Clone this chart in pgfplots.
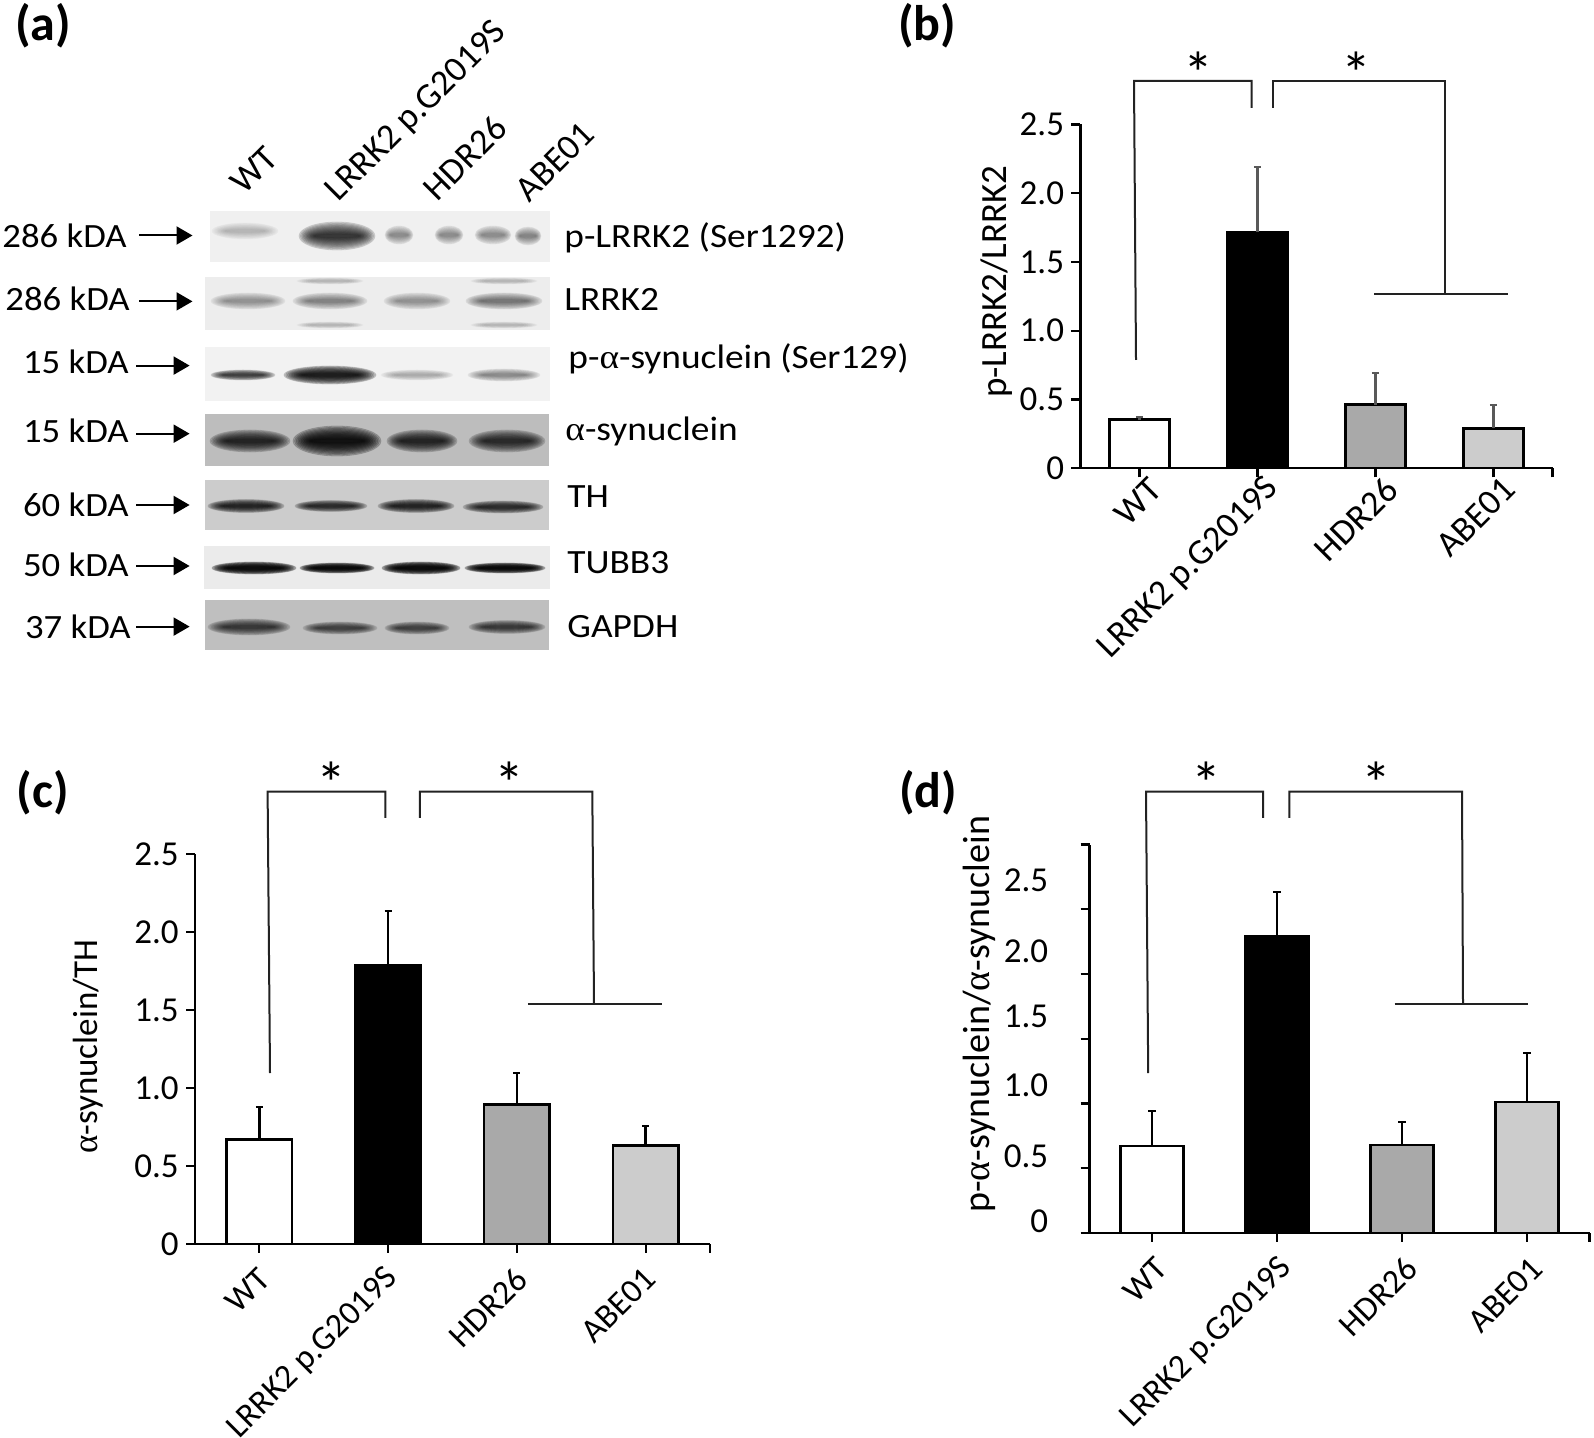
\documentclass[border=0pt]{standalone}
\usepackage{fontspec}
\usepackage{pgfplots}
\usepackage{pgfplotstable}
\pgfplotsset{compat=1.18}
\usetikzlibrary{arrows.meta}
\setmainfont{Carlito}
\newfontfamily\grk{Liberation Serif}
\newcommand\al{{\grk α}}
\newcommand\fs[1]{\fontsize{#1}{#1}\selectfont}
\newcommand\wide[1]{\scalebox{1.1}[1]{\fs{17}#1}}
\newcommand\widel[1]{\scalebox{1.08}[1]{\fs{17}#1}}

% blot bands, pixel coordinates of the reference: x y rx ry layer opacity
\pgfplotstableread{
x y rx ry d
245 231 33 8 .02
337 236 38 14 .11
399 235 14 9 .04
449 235 14 9 .04
493 235 18 9 .04
528 236 13 9 .045
248 301 37 8 .035
330 301 37 8 .045
417 301 33 8 .035
504 301 38 8 .05
330 281 33 3 .015
504 281 33 3 .015
330 325 33 3 .015
504 325 33 3 .015
243 375 32 5 .09
330 375 46 9 .15
417 375 36 5 .025
504 375 36 6 .04
250 441 40 11 .12
337 441 44 15 .17
422 441 35 11 .12
507 441 38 11 .11
246 506 38 6.5 .12
331 506 36 5.5 .11
416 506 38 6.5 .12
503 507 40 6 .11
254 568 42 6 .20
337 568 37 5 .20
421 568 39 6 .20
505 568 40 5 .20
249 627 41 8 .09
340 628 37 6 .08
417 628 32 6 .08
507 627 38 6.5 .085
}\bands

\definecolor{hdr}{HTML}{A9A9A9}
\definecolor{abe}{HTML}{CCCCCC}
\definecolor{brk}{HTML}{222222}

\pgfplotsset{
  panel/.style={
    scale only axis, anchor=south west,
    axis x line=bottom, axis y line=left, axis line style={-, line width=1.1pt},
    xmin=-0.5, xmax=3.5, ymin=0,
    xtick={0,1,2,3,3.5}, xticklabels={WT,{LRRK2 p.G2019S},HDR26,ABE01,},
    tick align=outside, major tick length=4.5pt,
    tick style={black, line width=1.1pt},
    yticklabel style={inner sep=0pt, xshift=-3.5pt, font=\fs{17.5}},
  },
  xlab/.style n args={3}{xticklabel style={rotate=45, anchor=east, inner sep=0pt, xshift=#2, yshift=#3, font=\fs{#1}}},
  ylab/.style n args={3}{every axis y label/.style={at={(axis description cs:#2,#3)}, rotate=90, anchor=center, font=\fs{#1}}},
  errs/.style 2 args={error bars/.cd, y dir=plus, y explicit,
    error bar style={line width=#1, draw=#2},
    error mark options={rotate=90, mark size=1.8pt, line width=1pt, draw=#2}},
  b/.style={ybar, bar shift=0pt, line width=1.3pt, draw=black},
}

\begin{document}
\begin{tikzpicture}
\path[use as bounding box] (0,0) rectangle (797pt,719pt);

% (b)
\begin{axis}[panel, at={(540.2pt,484.85pt)}, width=236.05pt, height=171.9pt, ymax=2.5,
  ytick={0,0.5,1,1.5,2,2.5}, yticklabels={0,0.5,1.0,1.5,2.0,2.5},
  xlab={18}{3.5pt}{-8pt},
  ylabel={p-LRRK2/LRRK2}, ylab={18.5}{-0.178}{0.543},
  bar width=29.8pt,
]
\addplot[b, fill=white, errs={1.2pt}{black!65}] coordinates {(0,0.353) +- (0,0.017)};
\addplot[b, fill=black, errs={1.2pt}{black!65}] coordinates {(1,1.718) +- (0,0.476)};
\addplot[b, fill=hdr, errs={1.2pt}{black!65}] coordinates {(2,0.463) +- (0,0.231)};
\addplot[b, fill=abe, errs={1.2pt}{black!65}] coordinates {(3,0.290) +- (0,0.167)};
\end{axis}

% (c)
\begin{axis}[panel, at={(97.5pt,97pt)}, width=257.5pt, height=194.8pt, ymax=2.5,
  ytick={0,0.5,1,1.5,2,2.5}, yticklabels={0,0.5,1.0,1.5,2.0,2.5},
  xlab={17}{-5.5pt}{-9pt},
  ylabel={\al-synuclein/TH}, ylab={17.5}{-0.208}{0.506},
  bar width=32.8pt,
]
\addplot[b, fill=white, errs={1.3pt}{black}] coordinates {(0,0.671) +- (0,0.206)};
\addplot[b, fill=black, errs={1.3pt}{black}] coordinates {(1,1.786) +- (0,0.348)};
\addplot[b, fill=hdr, errs={1.3pt}{black}] coordinates {(2,0.897) +- (0,0.200)};
\addplot[b, fill=abe, errs={1.3pt}{black}] coordinates {(3,0.631) +- (0,0.129)};
\end{axis}

% (d): the typed numbers sit above their ticks in the reference
\begin{axis}[panel, at={(544.75pt,102.55pt)}, width=250pt, height=194.15pt, ymax=3,
  ytick={0,0.5,1,1.5,2,2.5,3}, yticklabels={},
  extra y ticks={0.093,0.592,1.142,1.669,2.175,2.725},
  extra y tick labels={0,0.5,1.0,1.5,2.0,2.5},
  extra y tick style={major tick length=0pt, yticklabel style={xshift=-17pt, inner sep=0pt, font=\fs{17.5}}},
  xlab={17}{-4pt}{-11pt},
  ylabel={p-\al-synuclein/\al-synuclein}, ylab={19}{-0.221}{0.563},
  bar width=31.3pt,
]
\addplot[b, fill=white, errs={1.3pt}{black}] coordinates {(0,0.671) +- (0,0.268)};
\addplot[b, fill=black, errs={1.3pt}{black}] coordinates {(1,2.295) +- (0,0.337)};
\addplot[b, fill=hdr, errs={1.3pt}{black}] coordinates {(2,0.678) +- (0,0.175)};
\addplot[b, fill=abe, errs={1.3pt}{black}] coordinates {(3,1.012) +- (0,0.378)};
\end{axis}

% whole-figure axis in reference pixels: blots, brackets, panel letters
\begin{axis}[at={(0,0)}, anchor=south west, scale only axis, width=797pt, height=719pt,
  xmin=0, xmax=1594, ymin=0, ymax=1438, y dir=reverse, hide axis, clip=false]

\addplot[fill=black!6, draw=none] coordinates {(210,211)(550,211)(550,262)(210,262)} --cycle;
\addplot[fill=black!7, draw=none] coordinates {(205,277)(550,277)(550,330)(205,330)} --cycle;
\addplot[fill=black!5, draw=none] coordinates {(205,347)(550,347)(550,401)(205,401)} --cycle;
\addplot[fill=black!26, draw=none] coordinates {(205,414)(549,414)(549,466)(205,466)} --cycle;
\addplot[fill=black!20, draw=none] coordinates {(205,480)(549,480)(549,530)(205,530)} --cycle;
\addplot[fill=black!8, draw=none] coordinates {(204,546)(550,546)(550,589)(204,589)} --cycle;
\addplot[fill=black!25, draw=none] coordinates {(205,600)(549,600)(549,650)(205,650)} --cycle;

\addplot[scatter, only marks, mark=*, mark size=0pt,
  visualization depends on={\thisrow{rx} \as \rx},
  visualization depends on={\thisrow{ry} \as \ry},
  visualization depends on={\thisrow{d} \as \dk},
  scatter/@pre marker code/.code={%
    \foreach \s in {1,0.92,0.84,0.76,0.68,0.6,0.52,0.44,0.36,0.28,0.2,0.12}{%
      \fill[black, opacity=\dk] (0,0) ellipse [x radius={(0.55+0.45*\s)*\rx*0.5pt}, y radius={\s*\ry*0.5pt}];}%
    \begingroup\pgfsetstrokeopacity{0}\pgfsetfillopacity{0}},
  scatter/@post marker code/.code={\endgroup},
] table[x=x, y=y] {\bands};

% arrows
\addplot[-{Triangle[length=8pt,width=9pt]}, line width=1pt] coordinates {(139,235.5)(192.5,235.5)};
\addplot[-{Triangle[length=8pt,width=9pt]}, line width=1pt] coordinates {(139,301.4)(192.5,301.4)};
\addplot[-{Triangle[length=8pt,width=9pt]}, line width=1pt] coordinates {(136,365.6)(189.6,365.6)};
\addplot[-{Triangle[length=8pt,width=9pt]}, line width=1pt] coordinates {(136,433.7)(189.6,433.7)};
\addplot[-{Triangle[length=8pt,width=9pt]}, line width=1pt] coordinates {(136,505)(189.6,505)};
\addplot[-{Triangle[length=8pt,width=9pt]}, line width=1pt] coordinates {(136,566)(189.6,566)};
\addplot[-{Triangle[length=8pt,width=9pt]}, line width=1pt] coordinates {(136,626.6)(189.6,626.6)};

% brackets (b)
\addplot[brk, line width=1pt] coordinates {(1136,360)(1134,81)(1251.5,81)(1251.5,108)};
\addplot[brk, line width=1pt] coordinates {(1273,108)(1273,81)(1445,81)(1445,293.6)};
\addplot[brk, line width=1pt] coordinates {(1374.4,293.6)(1507.7,293.6)};
% brackets (c)
\addplot[brk, line width=1pt] coordinates {(270,1073)(267.6,791.6)(385.4,791.6)(385.4,817.9)};
\addplot[brk, line width=1pt] coordinates {(419.8,817.9)(419.8,791.6)(592.3,791.6)(594,1004)};
\addplot[brk, line width=1pt] coordinates {(527.9,1004)(661.6,1004)};
% brackets (d)
\addplot[brk, line width=1pt] coordinates {(1148.2,1073)(1146,791.6)(1263,791.6)(1263,817.9)};
\addplot[brk, line width=1pt] coordinates {(1289.4,817.9)(1289.4,791.6)(1462,791.6)(1463,1004)};
\addplot[brk, line width=1pt] coordinates {(1394.6,1004)(1527.6,1004)};

\node[font=\fs{30}] at (1198,73) {*};
\node[font=\fs{30}] at (1356,73) {*};
\node[font=\fs{30}] at (331,783) {*};
\node[font=\fs{30}] at (509.5,783) {*};
\node[font=\fs{30}] at (1206,783) {*};
\node[font=\fs{30}] at (1376,783) {*};

\node[font=\fs{25}\bfseries] at (43,26) {(a)};
\node[font=\fs{25}\bfseries] at (927,26) {(b)};
\node[font=\fs{25}\bfseries] at (43,792.5) {(c)};
\node[font=\fs{25}\bfseries] at (928,792.5) {(d)};

% panel (a) text
\node[rotate=45, font=\fs{18}] at (254,170) {WT};
\node[rotate=45, font=\fs{18}] at (417,112) {LRRK2 p.G2019S};
\node[rotate=45, font=\fs{18}] at (465,158) {HDR26};
\node[rotate=45, font=\fs{18}] at (555,162) {ABE01};

\node[anchor=east, inner sep=0pt] at (127,236) {\widel{286 kDA}};
\node[anchor=east, inner sep=0pt] at (130,299) {\widel{286 kDA}};
\node[anchor=east, inner sep=0pt] at (129,362) {\widel{15 kDA}};
\node[anchor=east, inner sep=0pt] at (129,430.6) {\widel{15 kDA}};
\node[anchor=east, inner sep=0pt] at (129,505) {\widel{60 kDA}};
\node[anchor=east, inner sep=0pt] at (129,565) {\widel{50 kDA}};
\node[anchor=east, inner sep=0pt] at (131,626.6) {\widel{37 kDA}};

\node[anchor=west, inner sep=0pt] at (564,237.6) {\wide{p-LRRK2 (Ser1292)}};
\node[anchor=west, inner sep=0pt] at (564,299) {\wide{LRRK2}};
\node[anchor=west, inner sep=0pt] at (568,359) {\wide{p-\al-synuclein (Ser129)}};
\node[anchor=west, inner sep=0pt] at (565,431.5) {\wide{\al-synuclein}};
\node[anchor=west, inner sep=0pt] at (567,496.5) {\wide{TH}};
\node[anchor=west, inner sep=0pt] at (567,562.4) {\wide{TUBB3}};
\node[anchor=west, inner sep=0pt] at (567,626.6) {\wide{GAPDH}};
\end{axis}
\end{tikzpicture}
\end{document}
